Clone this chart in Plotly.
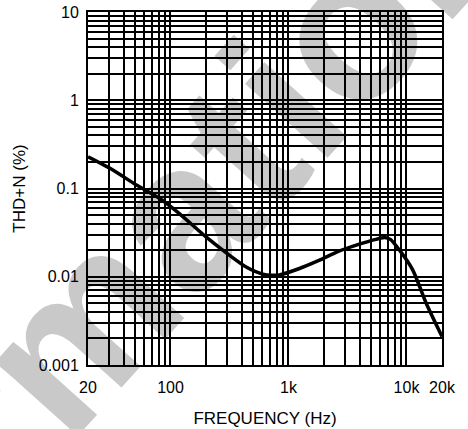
import plotly.graph_objects as go

# ---- data ----
freq_hz = [20, 32.5, 51, 81, 119, 200, 317, 438, 606, 720, 839, 1239, 1832, 2706,
           3993, 5187, 6517, 7300, 8728, 11316, 14690, 20000]
thd_pct = [0.228, 0.162, 0.11, 0.077, 0.052, 0.0283, 0.0175, 0.0129, 0.0107, 0.0104,
           0.0105, 0.0124, 0.0154, 0.0196, 0.0234, 0.026, 0.0279, 0.0265, 0.020,
           0.0119, 0.005, 0.0021]

x_grid = [m * 10 ** e for e in (1, 2, 3) for m in range(1, 10) if m * 10 ** e >= 20] + [10000, 20000]
x_grid = sorted(set(x_grid))
x_labels = {20: "20", 100: "100", 1000: "1k", 10000: "10k", 20000: "20k"}
y_grid = sorted(set([round(m * 10.0 ** e, 6) for e in (-3, -2, -1, 0) for m in range(1, 10)] + [10]))
y_labels = {0.001: "0.001", 0.01: "0.01", 0.1: "0.1", 1: "1", 10: "10"}

x_title = "FREQUENCY (Hz)"
y_title = "THD+N (%)"
# background watermark word, split where the two halves meet
watermark_head = "Inform"
watermark_tail = "ation"

FONT = "Liberation Sans, Arial, sans-serif"
W, H = 468, 429
WM_FONT = dict(family=FONT, size=210, color="#c9c9c9", weight="bold")
WM_ANGLE = -48
WM_X = 0.2453          # paper fraction of the split point (horizontal)
WM_HEAD_POS = 0.6925   # axis line of the end-anchored half
WM_TAIL_POS = 0.1040   # axis line of the start-anchored half

fig = go.Figure()

# watermark subplot traces (invisible), drawn before the chart subplot
fig.add_trace(go.Scatter(x=[0.5], y=[0.5], xaxis="x", yaxis="y", mode="markers",
                         marker=dict(size=1, opacity=0), showlegend=False, hoverinfo="skip"))
fig.add_trace(go.Scatter(x=[0.5], y=[0.5], xaxis="x3", yaxis="y", mode="markers",
                         marker=dict(size=1, opacity=0), showlegend=False, hoverinfo="skip"))

# main curve
fig.add_trace(go.Scatter(
    x=freq_hz, y=thd_pct, xaxis="x2", yaxis="y2", mode="lines",
    line=dict(color="black", width=3.5, shape="spline", smoothing=0.7),
    showlegend=False, hoverinfo="skip"))

wm_common = dict(range=[0, 1], showgrid=False, zeroline=False, showline=False, ticks="",
                 tickmode="array", tickvals=[WM_X], tickangle=WM_ANGLE,
                 ticklabeloverflow="allow", automargin=False, tickfont=WM_FONT,
                 fixedrange=True)

fig.update_layout(
    width=W, height=H,
    margin=dict(l=0, r=0, t=0, b=0, autoexpand=False),
    paper_bgcolor="white",
    plot_bgcolor="rgba(0,0,0,0)",
    font=dict(family=FONT, color="black", size=16),
    xaxis=dict(domain=[0, 1], anchor="free", position=WM_HEAD_POS, side="bottom",
               ticktext=[watermark_head], **wm_common),
    xaxis3=dict(overlaying="x", anchor="free", position=WM_TAIL_POS, side="top",
                ticktext=[watermark_tail], **wm_common),
    yaxis=dict(domain=[0, 1], range=[0, 1], showgrid=False, zeroline=False,
               showline=False, showticklabels=False, ticks="", automargin=False),
    xaxis2=dict(type="log", domain=[88 / W, 442 / W], anchor="y2",
                range=[1.30103, 4.30103],
                tickmode="array", tickvals=x_grid,
                ticktext=[x_labels.get(v, "") for v in x_grid],
                showgrid=True, gridcolor="black", gridwidth=1.5,
                showline=True, mirror=True, linecolor="black", linewidth=2,
                ticks="", ticklabelstandoff=7, zeroline=False, automargin=False,
                tickfont=dict(size=16),
                title=dict(text=x_title, font=dict(size=17), standoff=17)),
    yaxis2=dict(type="log", domain=[(H - 365) / H, (H - 12) / H], anchor="x2",
                range=[-3, 1],
                tickmode="array", tickvals=y_grid,
                ticktext=[y_labels.get(v, "") for v in y_grid],
                showgrid=True, gridcolor="black", gridwidth=1.5,
                showline=True, mirror=True, linecolor="black", linewidth=2,
                ticks="", ticklabelstandoff=4, zeroline=False, automargin=False,
                tickfont=dict(size=16),
                title=dict(text=y_title, font=dict(size=17), standoff=9)),
)

fig.write_html("out.html")
